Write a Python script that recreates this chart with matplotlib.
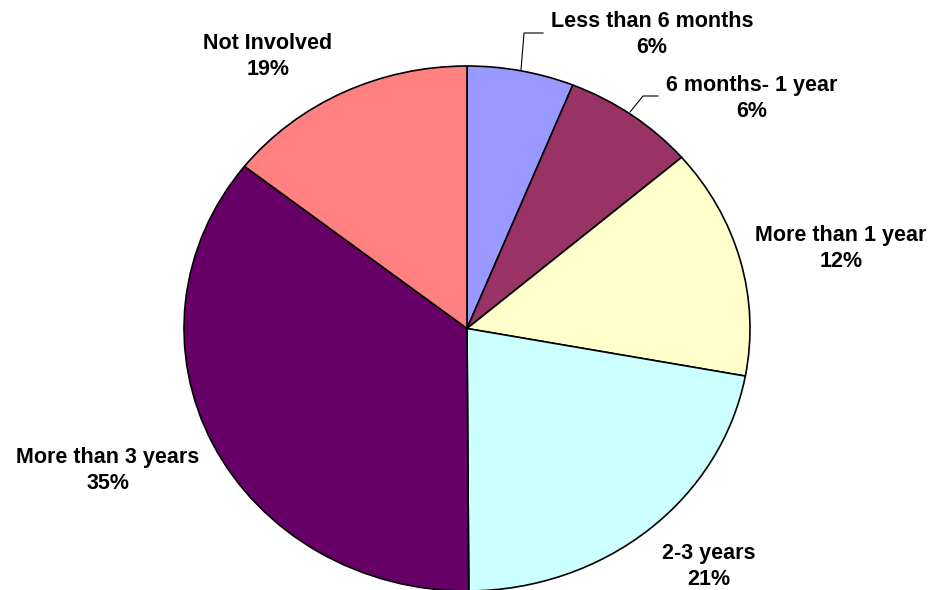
import matplotlib.pyplot as plt

# slice order: clockwise from 12 o'clock
categories = ["Less than 6 months", "6 months- 1 year", "More than 1 year",
              "2-3 years", "More than 3 years", "Not Involved"]
# slice sizes as drawn (read from the wedge boundaries)
values = [6.1, 7.6, 14.2, 22.0, 35.7, 14.4]
# percentages as printed on the labels
pct_labels = ["6%", "6%", "12%", "21%", "35%", "19%"]
colors = ["#9999FF", "#993366", "#FFFFCC", "#CCFFFF", "#660066", "#FF8080"]

W, H = 935, 590
CX, CY, RX, RY = 467, 328.5, 283, 262.5


def px(x, y):
    # pixel (from top-left) -> data coords where the pie has radius 1
    return (x - CX) / RX, (CY - y) / RY


fig = plt.figure(figsize=(W / 100, H / 100), dpi=100)
ax = fig.add_axes([0, 0, 1, 1])
ax.pie(values, colors=colors, startangle=90, counterclock=False, radius=1,
       wedgeprops=dict(edgecolor="black", linewidth=1.2))
ax.set_aspect("auto")
ax.set_xlim(px(0, 0)[0], px(W, 0)[0])
ax.set_ylim(px(0, H)[1], px(0, 0)[1])
ax.axis("off")

# label centres in pixels (first line)
label_pos = [(652, 19), (752, 83), (841, 233), (709, 551), (108, 455), (268, 41)]
for name, pct, (x, y) in zip(categories, pct_labels, label_pos):
    tx, ty = px(x, y + 15.5)
    ax.text(tx, ty, f"{name}\n{pct}", ha="center", va="center",
            fontsize=15.5, fontweight="bold", family="Liberation Sans",
            linespacing=1.36)

# leader lines
leaders = [
    [(521, 70), (524, 33), (543, 33)],
    [(630, 112), (643, 96), (658, 96)],
]
for pts in leaders:
    xs, ys = zip(*[px(a, b) for a, b in pts])
    ax.plot(xs, ys, color="black", linewidth=0.8)

fig.savefig("out.png", dpi=100)
